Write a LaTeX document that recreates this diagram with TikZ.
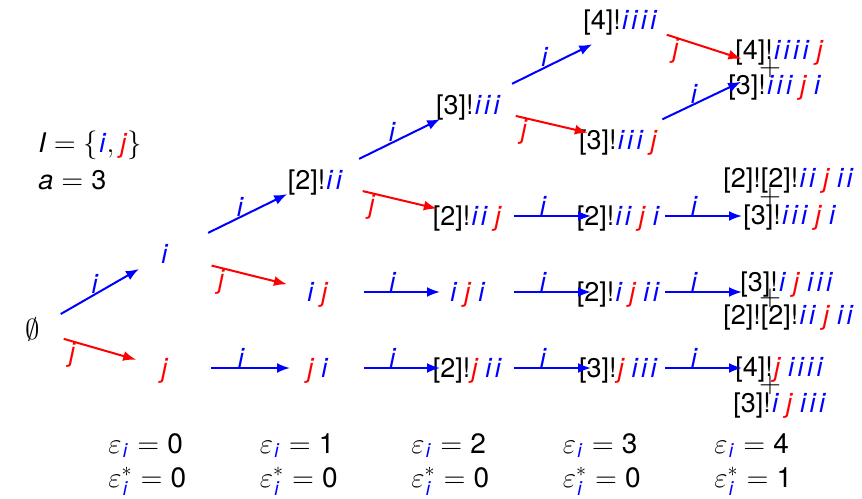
\documentclass[tikz,border=0pt]{standalone}
\usepackage{amsmath}
\usepackage{fontspec}
\setmainfont{TeX Gyre Heros}
\usetikzlibrary{arrows.meta}

\newcommand{\ci}{\textcolor{blue}{\kern.6pt\textit{i}\kern.6pt}}
\newcommand{\cj}{\textcolor{red}{\kern.6pt\textit{j}\kern.6pt}}

\tikzset{
  word/.style={inner sep=0pt, text height=9.7pt, text depth=0pt},
  sumsign/.style={inner sep=0pt},
  iarr/.style={-{Latex[length=6.5pt,width=5pt]}, blue, line width=1pt, shorten <=24pt, shorten >=16pt},
  jarr/.style={iarr, red},
  flat/.style={shorten <=23pt, shorten >=14pt},
  fromzero/.style={shorten <=16pt, shorten >=15pt},
  ilab/.style={midway, above, inner sep=0pt, text=blue},
  jlab/.style={pos=.37, below, inner sep=0pt, text=red},
  eqn/.style={anchor=west, inner sep=0pt, text height=10pt, text depth=0pt, font=\fontsize{14}{17}\selectfont},
}

\begin{document}
\begin{tikzpicture}[x=0.5pt, y=-0.5pt, every node/.style={font=\fontsize{13.5}{16}\selectfont}]
        \useasboundingbox (0,0) rectangle (862,498);

        % Index set and level
        \node[word, anchor=west] (iset) at (38,143) {$\text{\itshape I} = \{\ci, \cj\}$};
        \node[word, anchor=west] (lvl) at (38,180) {$\text{\itshape a} = \text{3}$};

        % Words, column by column
        \node[word, font=\fontsize{14.4}{17}\selectfont] (z) at (33,330) {$\emptyset$};

        \node[word] (a1) at (165,254) {\ci};
        \node[word] (b1) at (165,368) {\cj};

        \node[word] (a2) at (316,180) {[2]!\ci\ci};
        \node[word] (b2) at (318,292) {\ci\,\cj};
        \node[word] (c2) at (318,368) {\cj\,\ci};

        \node[word] (a3) at (469,105) {[3]!\ci\ci\ci};
        \node[word] (b3) at (468,216) {[2]!\ci\ci\,\cj};
        \node[word] (c3) at (468,292) {\ci\,\cj\,\ci};
        \node[word] (d3) at (468,368) {[2]!\cj\,\ci\ci};

        \node[word] (a4) at (621,20) {[4]!\ci\ci\ci\ci};
        \node[word] (b4) at (619,140) {[3]!\ci\ci\ci\,\cj};
        \node[word] (c4) at (619,216) {[2]!\ci\ci\,\cj\,\ci};
        \node[word] (d4) at (619,292) {[2]!\ci\,\cj\,\ci\ci};
        \node[word] (e4) at (619,368) {[3]!\cj\,\ci\ci\ci};

        % Last column: sums of two words
        \node[sumsign] (p1) at (770,68) {$+$};
        \node[word, anchor=west] (t1) at (735,50) {[4]!\ci\ci\ci\ci\,\cj};
        \node[word, anchor=west] (u1) at (728,85) {[3]!\ci\ci\ci\,\cj\,\ci};

        \node[sumsign] (p2) at (770,197) {$+$};
        \node[word, anchor=west] (t2) at (723,178) {[2]![2]!\ci\ci\,\cj\,\ci\ci};
        \node[word, anchor=west] (u2) at (743,215) {[3]!\ci\ci\ci\,\cj\,\ci};

        \node[sumsign] (p3) at (770,298) {$+$};
        \node[word, anchor=west] (t3) at (740,282) {[3]!\ci\,\cj\,\ci\ci\ci};
        \node[word, anchor=west] (u3) at (723,315) {[2]![2]!\ci\ci\,\cj\,\ci\ci};

        \node[sumsign] (p4) at (770,385) {$+$};
        \node[word, anchor=west] (t4) at (735,367) {[4]!\cj\,\ci\ci\ci\ci};
        \node[word, anchor=west] (u4) at (733,403) {[3]!\ci\,\cj\,\ci\ci\ci};

        % Crystal arrows
        \draw[iarr, fromzero] (z.center) -- node[ilab, pos=.47] {\textit{i}} (a1.center);
        \draw[jarr, fromzero] (z.center) -- node[jlab, pos=.3] {\textit{j}} (b1.center);

        \draw[iarr] (a1.center) -- node[ilab] {\textit{i}} (a2.center);
        \draw[jarr] (a1.center) -- node[jlab] {\textit{j}} (b2.center);
        \draw[iarr, flat] (b1.center) -- node[ilab] {\textit{i}} (c2.center);

        \draw[iarr] (a2.center) -- node[ilab] {\textit{i}} (a3.center);
        \draw[jarr] (a2.center) -- node[jlab] {\textit{j}} (b3.center);
        \draw[iarr, flat] (b2.center) -- node[ilab] {\textit{i}} (c3.center);
        \draw[iarr, flat] (c2.center) -- node[ilab] {\textit{i}} (d3.center);

        \draw[iarr] (a3.center) -- node[ilab] {\textit{i}} (a4.south);
        \draw[jarr] (a3.center) -- node[jlab] {\textit{j}} (b4.center);
        \draw[iarr, flat] (b3.center) -- node[ilab] {\textit{i}} (c4.center);
        \draw[iarr, flat] (c3.center) -- node[ilab] {\textit{i}} (d4.center);
        \draw[iarr, flat] (d3.center) -- node[ilab] {\textit{i}} (e4.center);

        \draw[jarr, shorten >=15pt] (a4.center) -- node[jlab] {\textit{j}} (p1.center);
        \draw[iarr] (b4.center) -- node[ilab] {\textit{i}} (p1.center);
        \draw[iarr, flat] (c4.center) -- node[ilab] {\textit{i}} (c4.center -| p2.center);
        \draw[iarr, flat] (d4.center) -- node[ilab] {\textit{i}} (d4.center -| p3.center);
        \draw[iarr, flat] (e4.center) -- node[ilab] {\textit{i}} (e4.center -| p4.center);

        % Epsilon values below each column
        \foreach \e/\s [count=\k] in {0/0, 1/0, 2/0, 3/0, 4/1} {
          \node[eqn] (eps\k) at ({108+151.5*(\k-1)},443) {$\varepsilon_{\ci} = \text{\e}$};
          \node[eqn] (epstar\k) at ({108+151.5*(\k-1)},477) {$\varepsilon^{*}_{\ci} = \text{\s}$};
        }
\end{tikzpicture}
\end{document}
